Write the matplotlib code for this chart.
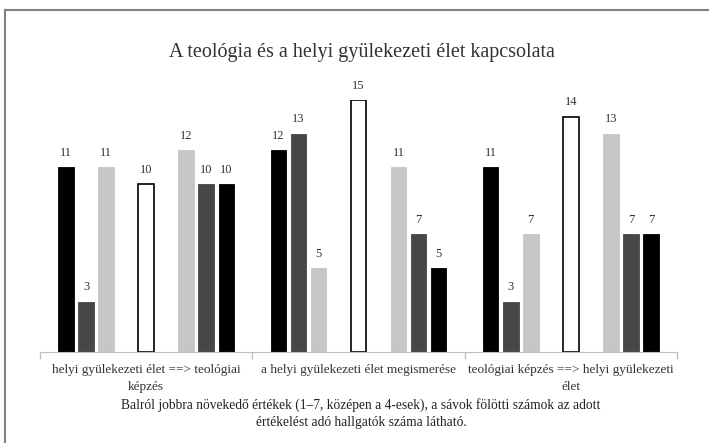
import numpy as np
import matplotlib.pyplot as plt
from matplotlib.lines import Line2D

plt.rcParams['font.family'] = ['Liberation Serif', 'DejaVu Serif']

categories = ["helyi gyülekezeti élet ==> teológiai\nképzés",
              "a helyi gyülekezeti élet megismerése",
              "teológiai képzés ==> helyi gyülekezeti\nélet"]

# seven ratings (1..7), 4 is the middle (white) bar
r1 = [11, 12, 11]
r2 = [3, 13, 3]
r3 = [11, 5, 7]
r4 = [10, 15, 14]
r5 = [12, 11, 13]
r6 = [10, 7, 7]
r7 = [10, 5, 7]

title = "A teológia és a helyi gyülekezeti élet kapcsolata"
caption = ("Balról jobbra növekedő értékek (1–7, középen a 4-esek), a sávok fölötti számok az adott\n"
           "értékelést adó hallgatók száma látható.")

series = [r1, r2, r3, r4, r5, r6, r7]
slots = [-4, -3, -2, 0, 2, 3, 4]
fills = ["#000000", "#474747", "#c6c6c6", "#ffffff", "#c6c6c6", "#474747", "#000000"]
edges = ["#000000", "#474747", "#c6c6c6", "#000000", "#c6c6c6", "#474747", "#000000"]

W, H = 709, 443
fig = plt.figure(figsize=(W / 100, H / 100), dpi=100)
ax = fig.add_axes([40 / W, 91 / H, 637 / W, 252 / H])

x = np.arange(len(categories))
slot = 20 / 212.0
bw = 15.5 / 212.0
for vals, s, fc, ec in zip(series, slots, fills, edges):
    bars = ax.bar(x + s * slot, vals, bw, color=fc, edgecolor=ec,
                  linewidth=1.2 if fc == "#ffffff" else 0.6)
    for b, v in zip(bars, vals):
        ax.annotate(str(v), (b.get_x() + b.get_width() / 2, v), xytext=(0, 6),
                    textcoords="offset points", ha="center", va="bottom",
                    fontsize=9, color="#333333", annotation_clip=False)

ax.set_xlim(-0.5, 2.5)
ax.set_ylim(0, 15)
ax.set_yticks([])
for s in ["top", "right", "left"]:
    ax.spines[s].set_visible(False)
ax.spines["bottom"].set_color("#c0c0c0")
ax.set_xticks(x)
ax.set_xticklabels(categories, fontsize=9.5, color="#333333", linespacing=1.5)
ax.tick_params(axis="x", length=0, pad=9)
ax.set_xticks([-0.5, 0.5, 1.5, 2.5], minor=True)
ax.tick_params(axis="x", which="minor", length=5, color="#c0c0c0", width=1)

fig.text(362 / W, 1 - 52 / H, title, ha="center", va="center", fontsize=14.5, color="#333333")
fig.text(361 / W, 1 - 414 / H, caption, ha="center", va="center", fontsize=9.75,
         color="#222222", linespacing=1.4)

# frame of the original picture (top and left edges visible)
fig.add_artist(Line2D([5 / W, 1], [1 - 10 / H, 1 - 10 / H], color="#808080", lw=1.5))
fig.add_artist(Line2D([5 / W, 5 / W], [0, 1 - 10 / H], color="#808080", lw=1.5))

fig.savefig("out.png", dpi=100)
